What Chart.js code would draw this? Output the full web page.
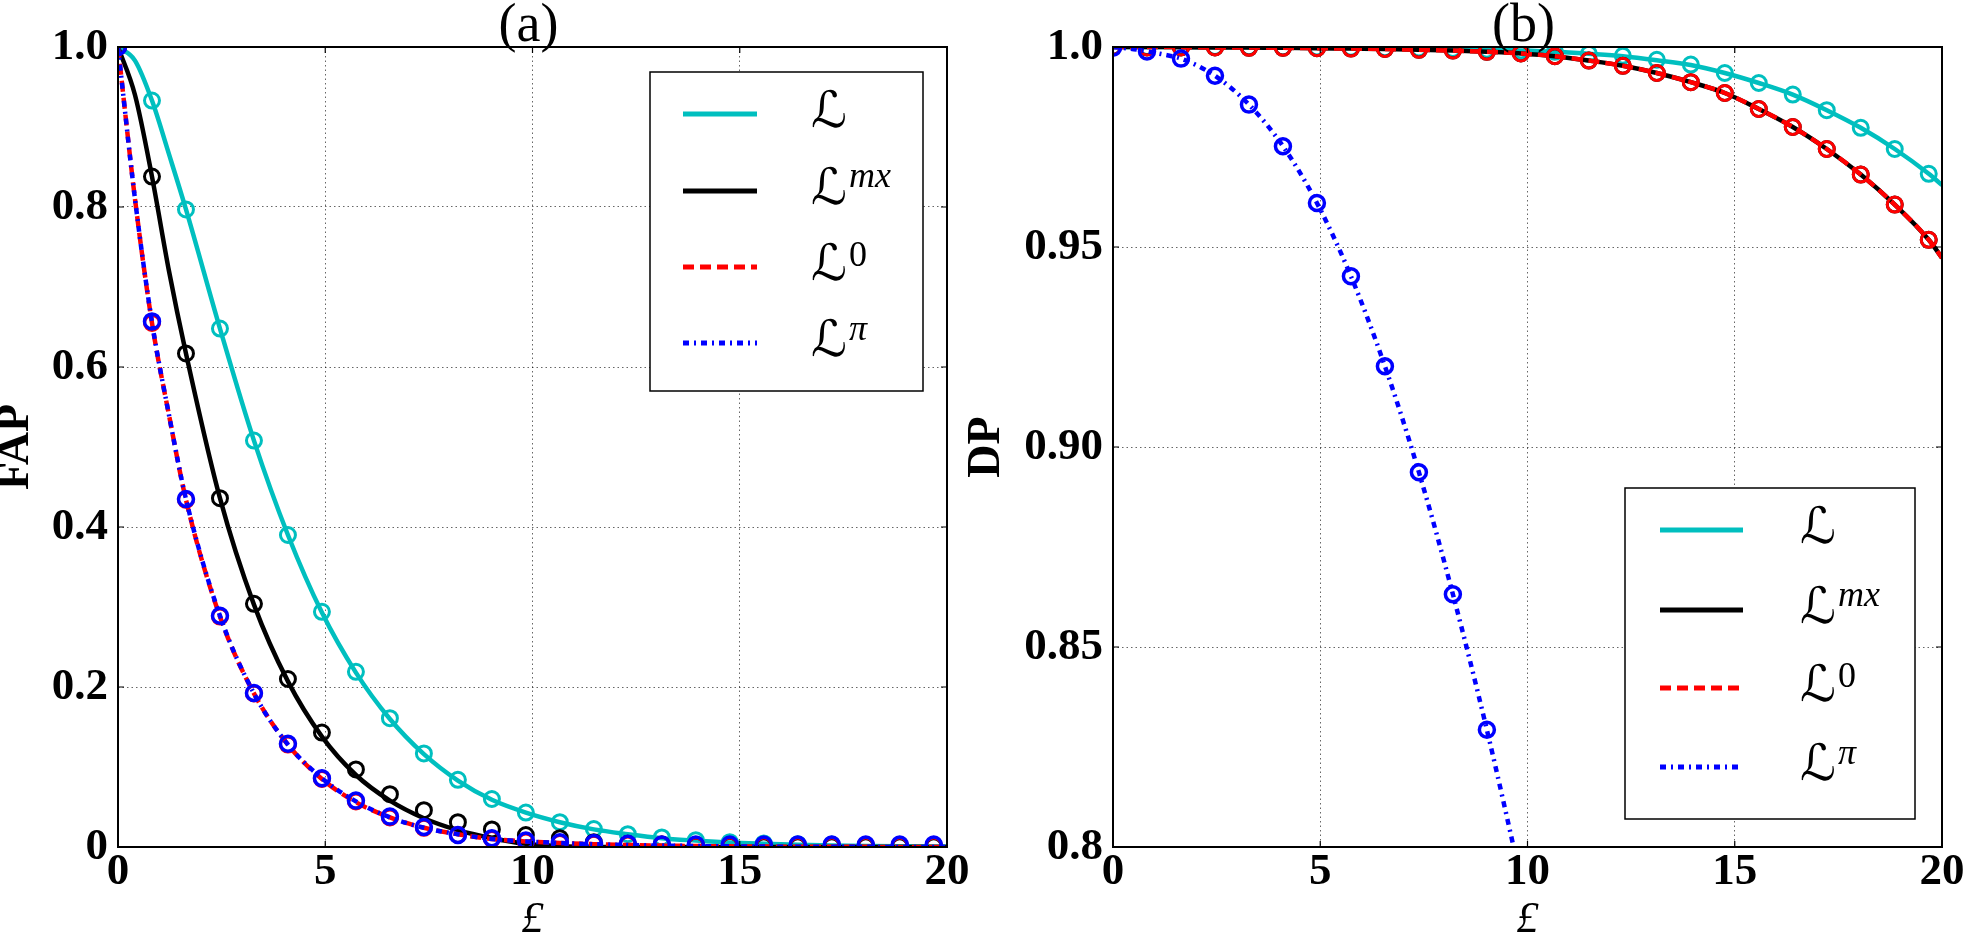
<!DOCTYPE html>
<html>
<head>
<meta charset="utf-8">
<script src="https://cdn.jsdelivr.net/npm/chart.js@4.4.0/dist/chart.umd.min.js"></script>
<style>
html, body { margin: 0; padding: 0; background: #fff; overflow: hidden; width: 1965px; height: 936px; }
canvas { position: absolute; top: 0; }
#fap { left: 0; }
#dp { left: 955px; }
</style>
</head>
<body>
<canvas id="fap" width="980" height="936"></canvas>
<canvas id="dp" width="1020" height="936"></canvas>
<script>
// abscisas dos marcadores (simulacao) e das curvas (teoria)
const markerX = [0, 0.82, 1.64, 2.46, 3.28, 4.10, 4.92, 5.74, 6.56, 7.38, 8.20, 9.02, 9.84,
  10.66, 11.48, 12.30, 13.12, 13.94, 14.76, 15.58, 16.40, 17.22, 18.04, 18.86, 19.68];
const curveX = [0, 0.41, 0.82, 1.23, 1.64, 2.46, 3.28, 4.10, 4.92, 5.74, 6.56, 7.38, 8.20, 9.02,
  9.84, 10.66, 11.48, 12.30, 13.12, 13.94, 14.76, 15.58, 16.40, 17.22, 18.04, 18.86, 19.68, 20];

// series: L, L^mx, L^0, L^pi
const seriesBase = ['ℒ', 'ℒ', 'ℒ', 'ℒ'];
const seriesSup = ['', 'mx', '0', 'π'];
const seriesColors = ['#00bfbf', '#000000', '#ff0000', '#0000ff'];

// (a) FAP - curvas
const fapLine = [1.0, 0.983, 0.933, 0.866, 0.797, 0.648, 0.508, 0.390, 0.293, 0.218, 0.160, 0.116, 0.083, 0.059,
  0.043, 0.031, 0.022, 0.016, 0.011, 0.008, 0.0055, 0.004, 0.0028, 0.002, 0.0014, 0.001, 0.0007, 0.0006];
const fapMxLine = [1.0, 0.94, 0.838, 0.72, 0.617, 0.436, 0.303, 0.207, 0.138, 0.090, 0.058, 0.036, 0.021, 0.011,
  0.004, 0.001, 0, 0, 0, 0, 0, 0, 0, 0, 0, 0, 0, 0];
const fap0Line = [1.0, 0.81, 0.655, 0.54, 0.434, 0.288, 0.192, 0.128, 0.085, 0.056, 0.037, 0.024, 0.016, 0.010,
  0.007, 0.005, 0.0035, 0.0025, 0.0018, 0.0012, 0.0008, 0.0005, 0.0004, 0.0003, 0.0002, 0.0001, 0.0001, 0.0001];
const fapPiLine = [1.0, 0.81, 0.656, 0.54, 0.435, 0.289, 0.192, 0.128, 0.086, 0.057, 0.037, 0.024, 0.016, 0.010,
  0.007, 0.005, 0.0035, 0.0025, 0.0018, 0.0012, 0.0008, 0.0005, 0.0004, 0.0003, 0.0002, 0.0001, 0.0001, 0.0001];
// (a) FAP - marcadores
const fapMarks = [1.0, 0.933, 0.797, 0.648, 0.508, 0.390, 0.294, 0.219, 0.161, 0.117, 0.084, 0.060, 0.043,
  0.031, 0.0225, 0.016, 0.012, 0.0085, 0.006, 0.0045, 0.0035, 0.003, 0.0025, 0.002, 0.002];
const fapMxMarks = [1.0, 0.838, 0.617, 0.436, 0.304, 0.210, 0.143, 0.097, 0.066, 0.046, 0.031, 0.022, 0.015,
  0.011, 0.006, 0.004, 0.003, 0.002, 0.0015, 0.001, 0.001, 0.001, 0.001, 0.001, 0.001];
const fap0Marks = [1.0, 0.655, 0.434, 0.288, 0.192, 0.128, 0.085, 0.057, 0.037, 0.024, 0.015, 0.010, 0.007,
  0.005, 0.004, 0.003, 0.003, 0.002, 0.002, 0.002, 0.002, 0.002, 0.002, 0.002, 0.002];
const fapPiMarks = [1.0, 0.657, 0.435, 0.289, 0.1925, 0.129, 0.086, 0.058, 0.038, 0.025, 0.015, 0.011, 0.008,
  0.006, 0.005, 0.004, 0.003, 0.003, 0.003, 0.003, 0.003, 0.003, 0.003, 0.003, 0.003];

// (b) DP - curvas
const dpLine = [1.0, 1.0, 1.0, 1.0, 1.0, 1.0, 0.99995, 0.9999, 0.9999, 0.9998, 0.9997, 0.9996, 0.9995, 0.9993,
  0.9991, 0.9988, 0.9983, 0.9977, 0.9967, 0.9955, 0.9935, 0.9910, 0.9881, 0.9842, 0.9798, 0.9745, 0.9683, 0.9655];
const dpMxLine = [1.0, 1.0, 1.0, 1.0, 0.99995, 0.9999, 0.9999, 0.9998, 0.9997, 0.9996, 0.9995, 0.9993, 0.9991, 0.9988,
  0.9984, 0.9977, 0.9966, 0.9953, 0.9935, 0.9912, 0.9885, 0.9845, 0.9800, 0.9745, 0.9681, 0.9606, 0.9518, 0.9473];
const dp0Line = [1.0, 1.0, 1.0, 1.0, 0.99995, 0.9999, 0.9999, 0.9998, 0.9997, 0.9996, 0.9995, 0.9993, 0.9991, 0.9988,
  0.9984, 0.9977, 0.9966, 0.9953, 0.9935, 0.9912, 0.9885, 0.9845, 0.9800, 0.9745, 0.9681, 0.9606, 0.9518, 0.9473];
const dpPiLine = [1.0, 0.9996, 0.9989, 0.9981, 0.9971, 0.9928, 0.9856, 0.9752, 0.9610, 0.9427, 0.9202, 0.8937,
  0.8632, 0.8293, 0.7920];
// (b) DP - marcadores
const dpMarks = [1.0, 1.0, 1.0, 1.0, 0.99995, 0.9999, 0.9999, 0.9998, 0.9997, 0.9996, 0.9995, 0.9993, 0.9991,
  0.9988, 0.9983, 0.9978, 0.9968, 0.9956, 0.9935, 0.9910, 0.9881, 0.9842, 0.9798, 0.9745, 0.9683];
const dpMxMarks = [1.0, 0.9999, 0.9999, 0.9999, 0.9998, 0.9998, 0.9997, 0.9996, 0.9995, 0.9993, 0.9991, 0.9988,
  0.9984, 0.9977, 0.9966, 0.9953, 0.9935, 0.9912, 0.9885, 0.9845, 0.9800, 0.9745, 0.9681, 0.9606, 0.9518];
const dp0Marks = [1.0, 0.9999, 0.9999, 0.9999, 0.9998, 0.9998, 0.9997, 0.9996, 0.9995, 0.9993, 0.9991, 0.9988,
  0.9984, 0.9977, 0.9966, 0.9953, 0.9935, 0.9912, 0.9885, 0.9845, 0.9800, 0.9745, 0.9681, 0.9606, 0.9518];
const dpPiMarks = [0.9998, 0.9989, 0.9971, 0.9928, 0.9856, 0.9752, 0.9610, 0.9427, 0.9202, 0.8937, 0.8632, 0.8293];

// ticks
const xTicks = [0, 5, 10, 15, 20];
const xTickLabels = ['0', '5', '10', '15', '20'];
const fapTicks = [0, 0.2, 0.4, 0.6, 0.8, 1.0];
const fapTickLabels = ['0', '0.2', '0.4', '0.6', '0.8', '1.0'];
const dpTicks = [0.8, 0.85, 0.9, 0.95, 1.0];
const dpTickLabels = ['0.8', '0.85', '0.90', '0.95', '1.0'];

const serif = "'Liberation Serif', 'DejaVu Serif', serif";
const seriesDash = [[], [], [11, 6], [6, 5, 2, 5]];
const tickFont = { family: serif, weight: 'bold', size: 45, lineHeight: 1 };

function toPoints(xs, ys) {
    return ys.map((y, i) => ({ x: xs[i], y: y }));
}

function lineSet(ys, i, order) {
    return {
        data: toPoints(curveX, ys),
        showLine: true,
        borderColor: seriesColors[i],
        borderWidth: 4.5,
        borderDash: seriesDash[i],
        pointRadius: 0,
        cubicInterpolationMode: 'monotone',
        clip: 0,
        order: order
    };
}

function markerSet(ys, i, order) {
    return {
        data: toPoints(markerX, ys),
        showLine: false,
        pointStyle: 'circle',
        pointRadius: 7.5,
        pointBorderWidth: i === 3 ? 3.5 : 3,
        pointBorderColor: seriesColors[i],
        pointBackgroundColor: 'rgba(0,0,0,0)',
        clip: 0,
        order: order
    };
}

// moldura, ticks internos, legenda e titulo do painel
const panelDecor = {
    id: 'panelDecor',
    afterDraw(chart, args, opts) {
        const ctx = chart.ctx, a = chart.chartArea;
        const xs = chart.scales.x, ys = chart.scales.y;
        ctx.save();
        ctx.setLineDash([]);
        ctx.strokeStyle = '#000';
        ctx.lineWidth = 1.2;
        ctx.beginPath();
        xs.ticks.forEach(t => {
            const px = xs.getPixelForValue(t.value);
            ctx.moveTo(px, a.bottom); ctx.lineTo(px, a.bottom - 6);
            ctx.moveTo(px, a.top); ctx.lineTo(px, a.top + 6);
        });
        ys.ticks.forEach(t => {
            const py = ys.getPixelForValue(t.value);
            ctx.moveTo(a.left, py); ctx.lineTo(a.left + 6, py);
            ctx.moveTo(a.right, py); ctx.lineTo(a.right - 6, py);
        });
        ctx.stroke();
        ctx.lineWidth = 2;
        ctx.strokeRect(a.left, a.top, a.right - a.left, a.bottom - a.top);

        const L = opts.legend;
        const bx = a.left + L.x, by = a.top + L.y;
        ctx.fillStyle = '#fff';
        ctx.fillRect(bx, by, L.w, L.h);
        ctx.lineWidth = 1.5;
        ctx.strokeRect(bx, by, L.w, L.h);
        const supShift = [0, -13, -10, -12];
        const supStyle = ['', 'italic ', '', 'italic '];
        seriesColors.forEach((c, i) => {
            const ry = by + L.rows[i];
            ctx.beginPath();
            ctx.setLineDash(seriesDash[i]);
            ctx.lineWidth = 5;
            ctx.strokeStyle = c;
            ctx.moveTo(bx + L.s0, ry);
            ctx.lineTo(bx + L.s1, ry);
            ctx.stroke();
            ctx.setLineDash([]);
            ctx.fillStyle = '#000';
            ctx.textAlign = 'left';
            ctx.textBaseline = 'middle';
            ctx.font = "50px 'DejaVu Serif', 'DejaVu Sans'";
            ctx.fillText(seriesBase[i], bx + L.tx, ry);
            const w = ctx.measureText(seriesBase[i]).width;
            if (seriesSup[i]) {
                ctx.font = supStyle[i] + '36px ' + serif;
                ctx.fillText(seriesSup[i], bx + L.tx + w + 2, ry + supShift[i]);
            }
        });

        ctx.font = '54px ' + serif;
        ctx.textAlign = 'center';
        ctx.textBaseline = 'middle';
        ctx.fillStyle = '#000';
        ctx.fillText(opts.title, (a.left + a.right) / 2 - 4, 27);
        ctx.restore();
    }
};

function makePanel(canvasId, cfg) {
    const ctx = document.getElementById(canvasId).getContext('2d');
    return new Chart(ctx, {
        type: 'scatter',
        data: { datasets: cfg.datasets },
        options: {
            responsive: false,
            animation: false,
            events: [],
            devicePixelRatio: 1,
            layout: { padding: { left: 0, right: 33, top: 47, bottom: 0 } },
            plugins: {
                legend: { display: false },
                tooltip: { enabled: false },
                panelDecor: { title: cfg.title, legend: cfg.legend }
            },
            scales: {
                x: {
                    type: 'linear',
                    min: 0,
                    max: 20,
                    afterBuildTicks: s => { s.ticks = xTicks.map(v => ({ value: v })); },
                    afterFit: s => { s.height = 89; },
                    ticks: {
                        autoSkip: false,
                        maxRotation: 0,
                        padding: 3,
                        color: '#000',
                        font: tickFont,
                        callback: v => xTickLabels[xTicks.indexOf(v)]
                    },
                    grid: { color: 'rgba(0,0,0,0.6)', lineWidth: 1, drawTicks: false },
                    border: { display: false, dash: [1.5, 3] },
                    title: {
                        display: true,
                        text: '£',
                        color: '#000',
                        padding: 0,
                        font: { family: serif, style: 'italic', size: 44, lineHeight: 0.7 }
                    }
                },
                y: {
                    type: 'linear',
                    min: cfg.yTicks[0],
                    max: cfg.yTicks[cfg.yTicks.length - 1],
                    afterBuildTicks: s => { s.ticks = cfg.yTicks.map(v => ({ value: v })); },
                    afterFit: s => { s.width = cfg.yWidth; },
                    ticks: {
                        autoSkip: false,
                        padding: 10,
                        color: '#000',
                        font: tickFont,
                        callback: v => cfg.yLabels[cfg.yTicks.indexOf(v)]
                    },
                    grid: { color: 'rgba(0,0,0,0.6)', lineWidth: 1, drawTicks: false },
                    border: { display: false, dash: [1.5, 3] },
                    title: {
                        display: true,
                        text: cfg.yTitle,
                        color: '#000',
                        padding: { top: cfg.yTitlePad, bottom: 0 },
                        font: { family: serif, weight: 'bold', size: 46, lineHeight: 0.72 }
                    }
                }
            }
        },
        plugins: [panelDecor]
    });
}

makePanel('fap', {
    title: '(a)',
    yTitle: 'FAP',
    yTitlePad: 0,
    yWidth: 118,
    yTicks: fapTicks,
    yLabels: fapTickLabels,
    legend: { x: 532, y: 25, w: 273, h: 319, rows: [42, 119, 195, 271], s0: 33, s1: 107, tx: 161 },
    datasets: [
        lineSet(fapLine, 0, 7), markerSet(fapMarks, 0, 6),
        lineSet(fapMxLine, 1, 5), markerSet(fapMxMarks, 1, 4),
        lineSet(fap0Line, 2, 3), markerSet(fap0Marks, 2, 2),
        lineSet(fapPiLine, 3, 1), markerSet(fapPiMarks, 3, 0)
    ]
});

makePanel('dp', {
    title: '(b)',
    yTitle: 'DP',
    yTitlePad: 16,
    yWidth: 158,
    yTicks: dpTicks,
    yLabels: dpTickLabels,
    legend: { x: 512, y: 441, w: 290, h: 331, rows: [42, 122, 200, 279], s0: 35, s1: 118, tx: 175 },
    datasets: [
        lineSet(dpLine, 0, 7), markerSet(dpMarks, 0, 6),
        lineSet(dpMxLine, 1, 5), markerSet(dpMxMarks, 1, 4),
        lineSet(dp0Line, 2, 3), markerSet(dp0Marks, 2, 2),
        lineSet(dpPiLine, 3, 1), markerSet(dpPiMarks, 3, 0)
    ]
});
</script>
</body>
</html>
